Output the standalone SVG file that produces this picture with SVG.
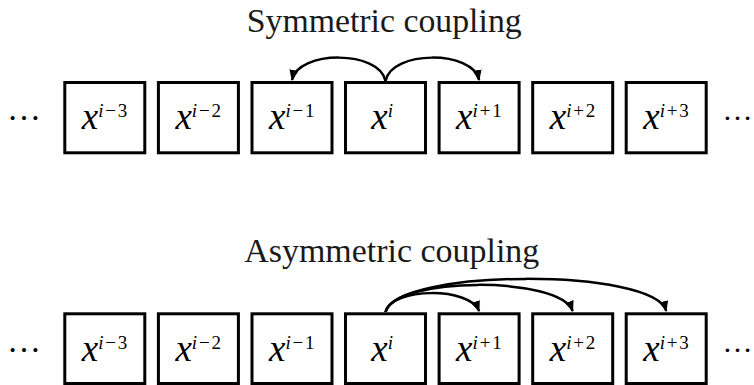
<svg xmlns="http://www.w3.org/2000/svg" width="754" height="385" viewBox="0 0 754 385">
<style>
.box{fill:#fff;stroke:#000;stroke-width:3}
.title{font-family:"Liberation Serif","Times New Roman",serif;font-size:33px;fill:#1a1a1a}
.lbl{font-family:"Liberation Serif","Times New Roman",serif;fill:#000;text-anchor:middle}
.mx{font-style:italic;font-size:37px}
.sup{font-size:19px;letter-spacing:1.8px}
.si{font-style:italic}
.dots{font-family:"Liberation Serif",serif;font-size:34px;fill:#000}
.dotsr{font-family:"Liberation Serif",serif;font-size:30px;fill:#000}
.conn{fill:none;stroke:#000;stroke-width:2.5}
</style>
<defs>
<marker id="ah" markerWidth="12" markerHeight="10" refX="10" refY="4.5" orient="auto" markerUnits="userSpaceOnUse">
<path d="M0,0 L11,4.5 L0,9 z" fill="#000"/>
</marker>
</defs>
<text class="title" x="246.7" y="31.5" textLength="275" lengthAdjust="spacingAndGlyphs">Symmetric coupling</text>
<text class="title" x="244.3" y="261.5" textLength="295" lengthAdjust="spacingAndGlyphs">Asymmetric coupling</text>
<text class="dots" x="7" y="120">…</text>
<text class="dotsr" x="722.5" y="120">…</text>
<text class="dots" x="7" y="352">…</text>
<text class="dotsr" x="722.5" y="352">…</text>
<g id="top-row">
<g id="t-im3"><rect class="box" x="64.8" y="82.5" width="80" height="70.3"/><text class="lbl" x="105.5" y="129"><tspan class="mx">x</tspan><tspan class="sup" dy="-12"><tspan class="si">i</tspan>−3</tspan></text></g>
<g id="t-im2"><rect class="box" x="158.4" y="82.5" width="80" height="70.3"/><text class="lbl" x="199.1" y="129"><tspan class="mx">x</tspan><tspan class="sup" dy="-12"><tspan class="si">i</tspan>−2</tspan></text></g>
<g id="t-im1"><rect class="box" x="252" y="82.5" width="80" height="70.3"/><text class="lbl" x="292.7" y="129"><tspan class="mx">x</tspan><tspan class="sup" dy="-12"><tspan class="si">i</tspan>−1</tspan></text></g>
<g id="t-i"><rect class="box" x="345.5" y="82.5" width="80" height="70.3"/><text class="lbl" x="383" y="129"><tspan class="mx">x</tspan><tspan class="sup si" dy="-12">i</tspan></text></g>
<g id="t-ip1"><rect class="box" x="439.1" y="82.5" width="80" height="70.3"/><text class="lbl" x="479.8" y="129"><tspan class="mx">x</tspan><tspan class="sup" dy="-12"><tspan class="si">i</tspan>+1</tspan></text></g>
<g id="t-ip2"><rect class="box" x="532.7" y="82.5" width="80" height="70.3"/><text class="lbl" x="573.4" y="129"><tspan class="mx">x</tspan><tspan class="sup" dy="-12"><tspan class="si">i</tspan>+2</tspan></text></g>
<g id="t-ip3"><rect class="box" x="626.2" y="82.5" width="80" height="70.3"/><text class="lbl" x="666.9" y="129"><tspan class="mx">x</tspan><tspan class="sup" dy="-12"><tspan class="si">i</tspan>+3</tspan></text></g>
</g>
<g id="bottom-row">
<g id="b-im3"><rect class="box" x="64.8" y="313.8" width="80" height="69.7"/><text class="lbl" x="105.5" y="361"><tspan class="mx">x</tspan><tspan class="sup" dy="-12"><tspan class="si">i</tspan>−3</tspan></text></g>
<g id="b-im2"><rect class="box" x="158.4" y="313.8" width="80" height="69.7"/><text class="lbl" x="199.1" y="361"><tspan class="mx">x</tspan><tspan class="sup" dy="-12"><tspan class="si">i</tspan>−2</tspan></text></g>
<g id="b-im1"><rect class="box" x="252" y="313.8" width="80" height="69.7"/><text class="lbl" x="292.7" y="361"><tspan class="mx">x</tspan><tspan class="sup" dy="-12"><tspan class="si">i</tspan>−1</tspan></text></g>
<g id="b-i"><rect class="box" x="345.5" y="313.8" width="80" height="69.7"/><text class="lbl" x="383" y="361"><tspan class="mx">x</tspan><tspan class="sup si" dy="-12">i</tspan></text></g>
<g id="b-ip1"><rect class="box" x="439.1" y="313.8" width="80" height="69.7"/><text class="lbl" x="479.8" y="361"><tspan class="mx">x</tspan><tspan class="sup" dy="-12"><tspan class="si">i</tspan>+1</tspan></text></g>
<g id="b-ip2"><rect class="box" x="532.7" y="313.8" width="80" height="69.7"/><text class="lbl" x="573.4" y="361"><tspan class="mx">x</tspan><tspan class="sup" dy="-12"><tspan class="si">i</tspan>+2</tspan></text></g>
<g id="b-ip3"><rect class="box" x="626.2" y="313.8" width="80" height="69.7"/><text class="lbl" x="666.9" y="361"><tspan class="mx">x</tspan><tspan class="sup" dy="-12"><tspan class="si">i</tspan>+3</tspan></text></g>
</g>
<g id="connectors">
<path class="conn" d="M385.5,81 C380,50 298,50 292,80" marker-end="url(#ah)"/>
<path class="conn" d="M385.5,81 C391,50 473,50 479.1,80" marker-end="url(#ah)"/>
<path class="conn" d="M385.5,312 C392,287 470,287 479.1,311" marker-end="url(#ah)"/>
<path class="conn" d="M385.5,312 C395,276 560,276 572.7,311" marker-end="url(#ah)"/>
<path class="conn" d="M385.5,312 C397,268 655,268 666.2,311" marker-end="url(#ah)"/>
</g>
</svg>
